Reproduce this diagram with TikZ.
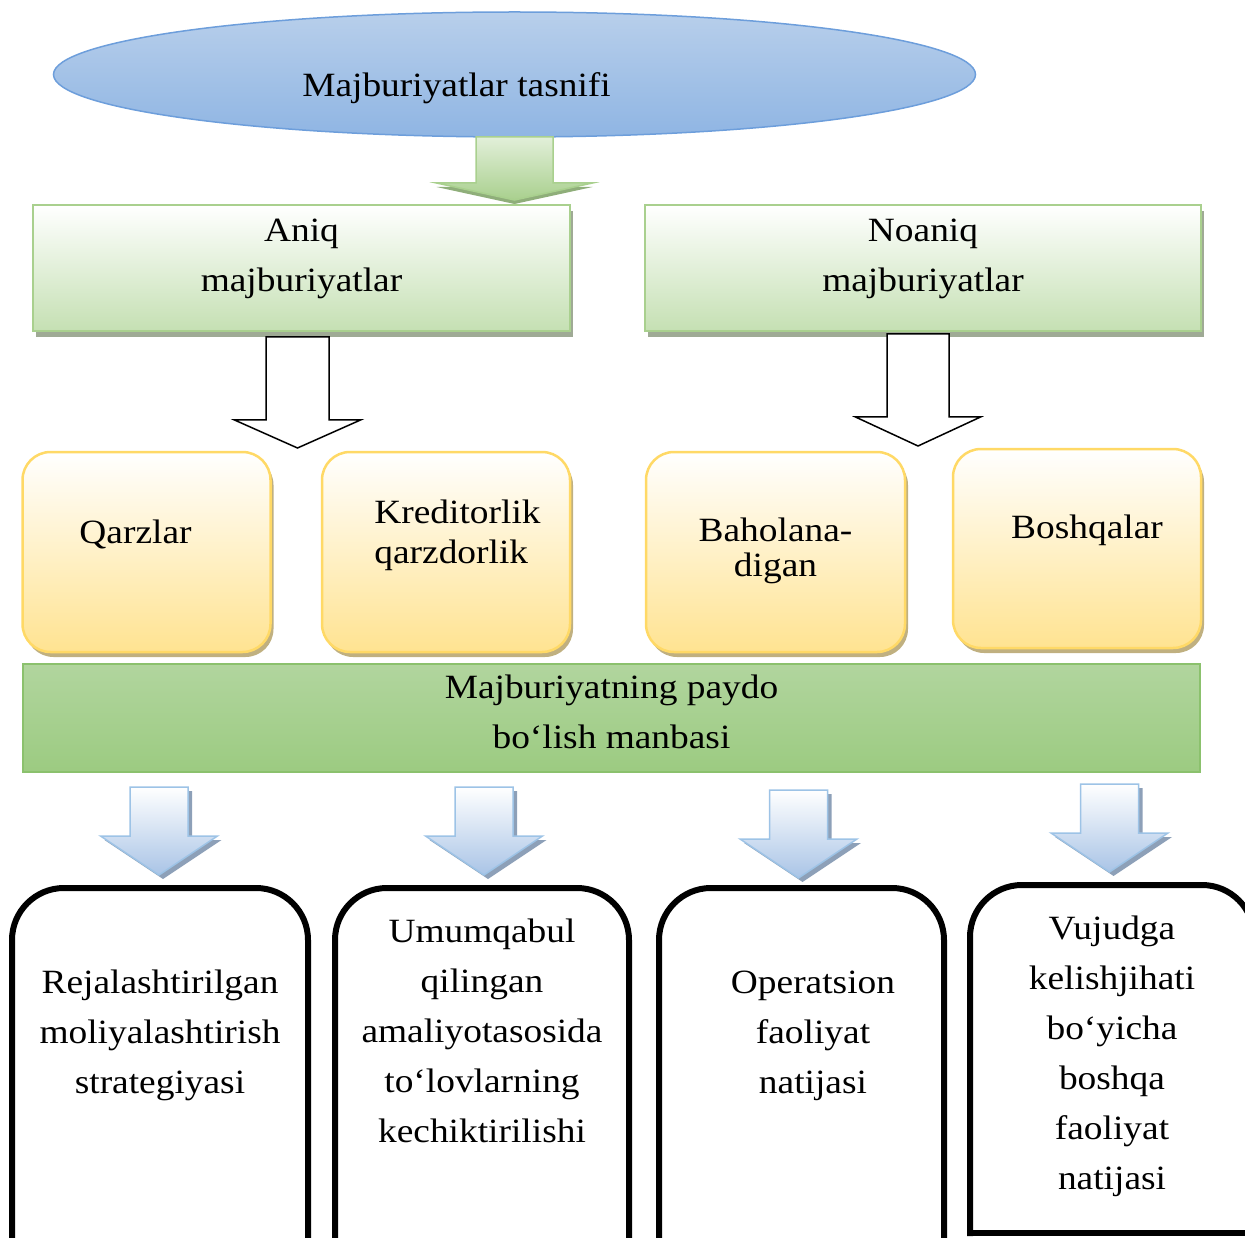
\documentclass[tikz,border=0pt]{standalone}
\usepackage{fontspec}
\setmainfont{Liberation Serif}[FakeStretch=1.1]
\usetikzlibrary{shapes.geometric,shadows,calc}

\definecolor{titletop}{HTML}{B8CFEB}
\definecolor{titlebot}{HTML}{8FB5E3}
\definecolor{titleline}{HTML}{6D9EDB}
\definecolor{greenfill}{HTML}{C5E0B3}
\definecolor{greenline}{HTML}{A9D08E}
\definecolor{greenshadow}{HTML}{9FAA95}
\definecolor{arrowtop}{HTML}{E2EFD9}
\definecolor{arrowshadow}{HTML}{8FAE7A}
\definecolor{yellowfill}{HTML}{FFE391}
\definecolor{yellowline}{HTML}{FFD966}
\definecolor{yellowshadow}{HTML}{C0B080}
\definecolor{bartop}{HTML}{B1D59E}
\definecolor{barbot}{HTML}{9CCB81}
\definecolor{barline}{HTML}{8BC16D}
\definecolor{bluefill}{HTML}{A9C4E6}
\definecolor{blueline}{HTML}{9DC3E6}
\definecolor{blueshadow}{HTML}{8DA0B8}

\tikzset{
    pics/downarrow/.style n args={5}{
        code={\draw[#1] (-#2,0) -- (#2,0) -- (#2,#4) -- (#3,#4) -- (0,#5) -- (-#3,#4) -- (-#2,#4) -- cycle;}
    },
    basefont/.style={font=\fontsize{34}{50}\selectfont, align=center, inner sep=0pt, outer sep=0pt},
    titleellipse/.style={basefont, ellipse, draw=titleline, line width=1.5pt, top color=titletop, bottom color=titlebot, minimum width=922pt, minimum height=125pt},
    greenbox/.style={basefont, rectangle, draw=greenline, line width=2.5pt, top color=white, bottom color=greenfill, minimum width=537pt, minimum height=126pt,
        drop shadow={shadow xshift=3pt, shadow yshift=-6pt, fill=greenshadow, opacity=1}},
    yellowbox/.style={basefont, rectangle, rounded corners=28pt, draw=yellowline, line width=2.5pt, top color=white, bottom color=yellowfill, minimum width=248pt, minimum height=200pt,
        drop shadow={shadow xshift=3pt, shadow yshift=-5pt, fill=yellowshadow, opacity=1}},
    barbox/.style={basefont, rectangle, draw=barline, line width=1.5pt, top color=bartop, bottom color=barbot, minimum width=1177pt, minimum height=108pt},
    tabbox/.style={basefont, rectangle, minimum height=372pt},
    tabline/.style={line width=6pt, rounded corners=52pt, line cap=rect},
    greenarrow/.style={draw=greenline, line width=1.5pt, top color=arrowtop, bottom color=greenline,
        drop shadow={shadow xshift=0pt, shadow yshift=-4pt, fill=arrowshadow, opacity=1}},
    outlinearrow/.style={draw=black, line width=1.5pt, fill=white},
    bluearrow/.style={draw=blueline, line width=1.5pt, top color=white, bottom color=bluefill,
        drop shadow={shadow xshift=4pt, shadow yshift=-4pt, fill=blueshadow, opacity=1}}
}

\begin{document}
\begin{tikzpicture}[x=1pt,y=-1pt]
    \useasboundingbox (0,0) rectangle (1245,1238);
    \clip (0,0) rectangle (1245,1238);

    % top of the scheme
    \node[titleellipse, text height=44pt, text depth=0pt] (title) at (514.5,74.5) {Majburiyatlar tasnifi\hspace*{116pt}};
    \pic at (title.south) {downarrow={greenarrow}{38.5}{78}{46}{63}};

    \node[greenbox, text height=47pt, text depth=0pt] (aniq) at (301.5,268) {Aniq\\majburiyatlar};
    \node[greenbox, minimum width=556pt, text height=47pt, text depth=0pt] (noaniq) at (923,268) {Noaniq\\majburiyatlar};

    \pic at ($(aniq.south)+(-4,6)$) {downarrow={outlinearrow}{31.5}{63}{83}{111}};
    \pic at ($(noaniq.south)+(-5,3)$) {downarrow={outlinearrow}{31}{62.5}{83}{112}};

    % kinds
    \node[yellowbox, text height=0pt, text depth=17pt] (qarz) at (146.5,552) {Qarzlar\hspace*{22pt}};
    \node[yellowbox, font=\fontsize{34}{40}\selectfont, align=left, text height=23pt, text depth=0pt] (kred) at (446,552) {\hspace*{23pt}Kreditorlik\\\hspace*{23pt}qarzdorlik};
    \node[yellowbox, minimum width=259pt, font=\fontsize{34}{35}\selectfont, text height=49pt, text depth=0pt] (baho) at (775.5,552) {Baholana-\\digan};
    \node[yellowbox, minimum height=199pt, text height=0pt, text depth=20pt] (boshq) at (1077,548.5) {\hspace*{20pt}Boshqalar};

    \node[barbox, text height=61pt, text depth=0pt] (manba) at (611.5,718) {Majburiyatning paydo\\bo‘lish manbasi};

    % sources
    \node[tabbox, minimum width=296pt, text height=39pt, text depth=0pt] (reja) at (160,1074) {Rejalashtirilgan\\moliyalashtirish\\strategiyasi};
    \node[tabbox, minimum width=294pt, text height=137pt, text depth=0pt] (umum) at (482,1074) {Umumqabul\\qilingan\\amaliyotasosida\\to‘lovlarning\\kechiktirilishi};
    \node[tabbox, minimum width=285pt, text height=39pt, text depth=0pt] (oper) at (801.5,1074) {\hspace*{23pt}Operatsion\\\hspace*{23pt}faoliyat\\\hspace*{23pt}natijasi};
    \node[tabbox, minimum width=284pt, minimum height=348pt, text height=261pt, text depth=0pt] (vujud) at (1112,1059) {Vujudga\\kelishjihati\\bo‘yicha\\boshqa\\faoliyat\\natijasi};

    \foreach \n in {reja,umum,oper,vujud}
        \draw[tabline] (\n.south west) -- (\n.north west) -- (\n.north east) -- (\n.south east);
    \draw[tabline] (vujud.south west) -- (vujud.south east);

    \pic at ($(reja.north |- manba.south)+(-1,15)$) {downarrow={bluearrow}{29}{58.5}{49}{88}};
    \pic at ($(umum.north |- manba.south)+(2,15)$) {downarrow={bluearrow}{29}{58.5}{49}{88}};
    \pic at ($(oper.north |- manba.south)+(-3,18)$) {downarrow={bluearrow}{29}{58.5}{49}{88}};
    \pic at ($(vujud.north |- manba.south)+(-2.5,12)$) {downarrow={bluearrow}{29}{58.5}{49}{88}};
\end{tikzpicture}
\end{document}
